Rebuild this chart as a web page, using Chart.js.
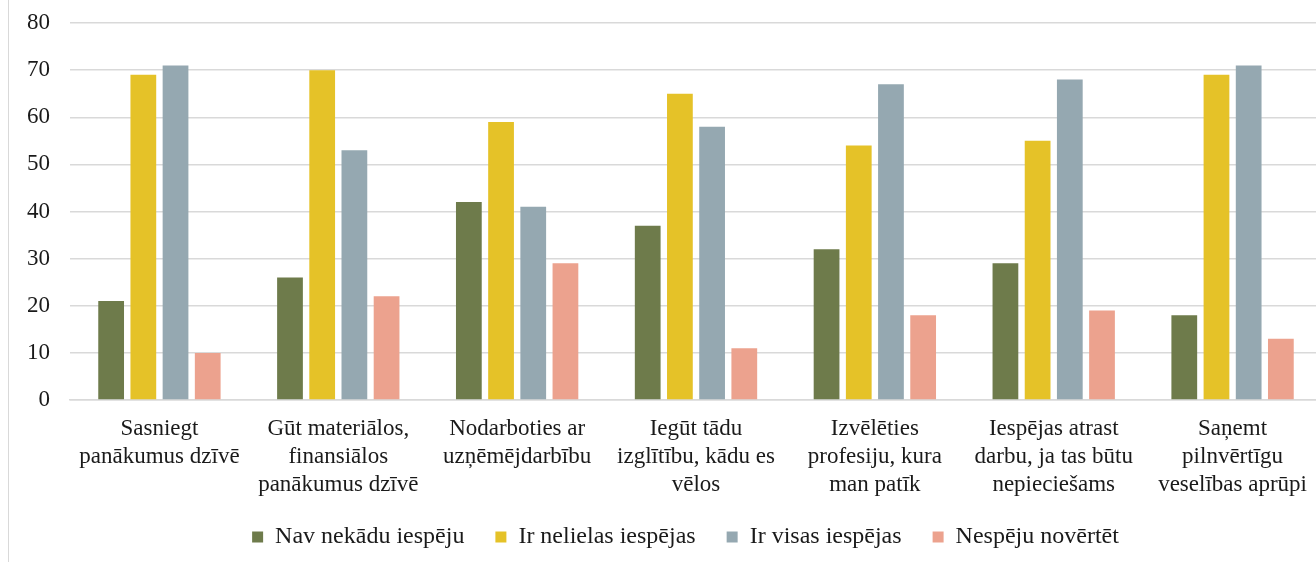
<!DOCTYPE html>
<html>
<head>
<meta charset="utf-8">
<script src="https://cdn.jsdelivr.net/npm/chart.js@4"></script>
<style>
  html, body { margin: 0; padding: 0; background: #fff; overflow: hidden; }
  #frame { position: absolute; left: 8px; top: 0; width: 1px; height: 562px; background: #d9d9d9; }
  #wrap { position: absolute; left: 9px; top: 0; width: 1313px; height: 562px; }
</style>
</head>
<body>
<div id="frame"></div>
<div id="wrap"><canvas id="chart"></canvas></div>
<script>
const categories = [
    ['Sasniegt', 'panākumus dzīvē'],
    ['Gūt materiālos,', 'finansiālos', 'panākumus dzīvē'],
    ['Nodarboties ar', 'uzņēmējdarbību'],
    ['Iegūt tādu', 'izglītību, kādu es', 'vēlos'],
    ['Izvēlēties', 'profesiju, kura', 'man patīk'],
    ['Iespējas atrast', 'darbu, ja tas būtu', 'nepieciešams'],
    ['Saņemt', 'pilnvērtīgu', 'veselības aprūpi']
];
const seriesNames = ['Nav nekādu iespēju', 'Ir nelielas iespējas', 'Ir visas iespējas', 'Nespēju novērtēt'];
const navIespeju = [21, 26, 42, 37, 32, 29, 18];
const nelielas = [69, 70, 59, 65, 54, 55, 69];
const visas = [71, 53, 41, 58, 67, 68, 71];
const nevar = [10, 22, 29, 11, 18, 19, 13];
const yTicks = [0, 10, 20, 30, 40, 50, 60, 70, 80];

const colors = ['#6e7b4b', '#e5c228', '#95a8b1', '#eca28e'];
const values = [navIespeju, nelielas, visas, nevar];
const serif = "'Liberation Serif', 'Times New Roman', serif";

Chart.defaults.font.family = serif;

// the legend sits a little right of the canvas centre in the original
const legendShift = {
    id: 'legendShift',
    afterLayout(chart) {
        chart.legend.left += 20;
        chart.legend.right += 20;
    }
};

document.addEventListener('DOMContentLoaded', () => {
    const ctx = document.getElementById('chart').getContext('2d');
    new Chart(ctx, {
        type: 'bar',
        data: {
            labels: categories,
            datasets: seriesNames.map((name, i) => ({
                label: name,
                data: values[i],
                backgroundColor: colors[i],
                borderWidth: 0,
                barPercentage: 0.8,
                categoryPercentage: 0.72
            }))
        },
        plugins: [legendShift],
        options: {
            responsive: true,
            maintainAspectRatio: false,
            animation: false,
            layout: { padding: { top: 0, bottom: 3, right: 0, left: 0 } },
            plugins: {
                tooltip: { enabled: false },
                legend: {
                    position: 'bottom',
                    align: 'center',
                    labels: {
                        color: '#1a1a1a',
                        font: { family: serif, size: 24 },
                        boxWidth: 11,
                        boxHeight: 11,
                        padding: 31
                    }
                }
            },
            scales: {
                x: {
                    grid: { display: false },
                    border: { display: true, color: '#d9d9d9', width: 1.5 },
                    ticks: {
                        color: '#1a1a1a',
                        font: { family: serif, size: 23, lineHeight: 1.22 },
                        maxRotation: 0,
                        autoSkip: false,
                        padding: 7
                    },
                    afterFit: s => {
                        s.height = 94;
                        // keep the third label line from being clipped by the legend box
                        s._computeLabelArea = () => undefined;
                    }
                },
                y: {
                    min: yTicks[0],
                    max: yTicks[yTicks.length - 1],
                    afterBuildTicks: s => { s.ticks = yTicks.map(v => ({ value: v })); },
                    grid: { color: '#d9d9d9', lineWidth: 1.5, drawTicks: false },
                    border: { display: false },
                    ticks: {
                        color: '#1a1a1a',
                        font: { family: serif, size: 23 },
                        padding: 20
                    },
                    afterFit: s => {
                        s.width = 61;
                        s.paddingTop = 23;
                        s.paddingBottom = 12;
                    }
                }
            }
        }
    });
});
</script>
</body>
</html>
